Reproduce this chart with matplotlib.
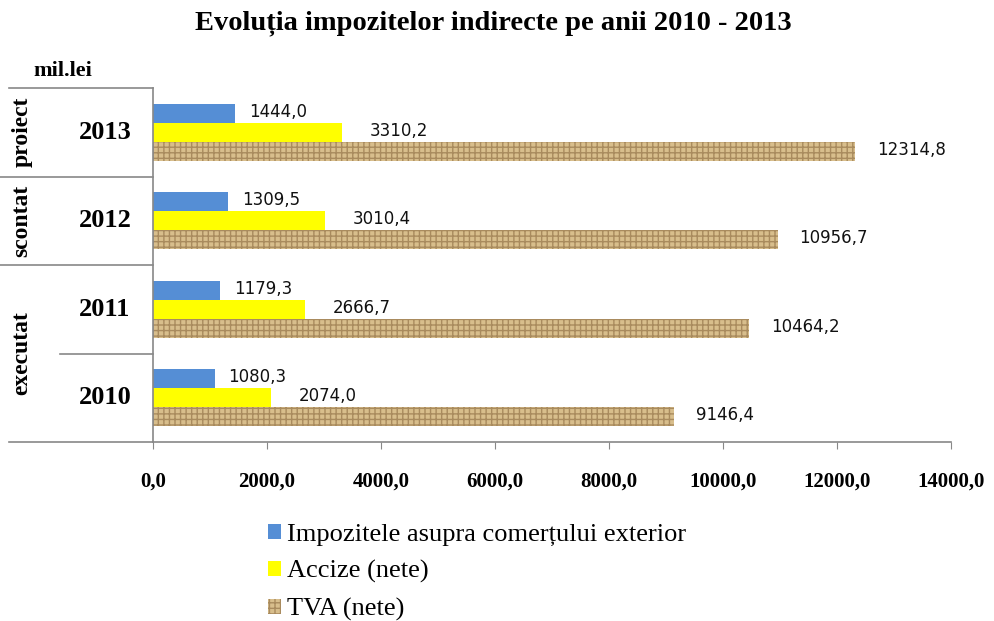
import numpy as np
import matplotlib
matplotlib.use("Agg")
import matplotlib.pyplot as plt
import matplotlib.transforms as mtransforms

# data
years = ["2010", "2011", "2012", "2013"]
comert = [1080.3, 1179.3, 1309.5, 1444.0]
accize = [2074.0, 2666.7, 3010.4, 3310.2]
tva = [9146.4, 10464.2, 10956.7, 12314.8]
series_names = ["Impozitele asupra comerțului exterior", "Accize (nete)", "TVA (nete)"]
x_ticks = [0, 2000, 4000, 6000, 8000, 10000, 12000, 14000]

SERIF = "Liberation Serif"
plt.rcParams['hatch.linewidth'] = 1.0

fig = plt.figure(figsize=(9.95, 6.21), dpi=100)
ax = fig.add_axes([153 / 995, 1 - 442 / 621, 798 / 995, 354 / 621])

y = np.arange(len(years))
h = 0.215
b1 = ax.barh(y + h, comert, height=h, color="#558ed5", label=series_names[0])
b2 = ax.barh(y, accize, height=h, color="#ffff00", label=series_names[1])
b3 = ax.barh(y - h, tva, height=h, color="#d8be8c", edgecolor="#a98b5e",
             hatch="+++", linewidth=0, label=series_names[2])

# value labels, offsets in pixels like the original
for bars, vals, dx in [(b1, comert, 14), (b2, accize, 28), (b3, tva, 22)]:
    for rect, v in zip(bars, vals):
        ax.annotate(f"{v:.1f}".replace(".", ","),
                    xy=(rect.get_width(), rect.get_y() + rect.get_height() / 2),
                    xytext=(dx * 0.72, 1), textcoords="offset points",
                    ha="left", va="center", fontsize=12, color="#111111",
                    family="DejaVu Sans")

ax.set_xlim(0, 14000)
ax.set_ylim(-0.5, 3.5)
ax.set_xticks(x_ticks)
ax.set_xticklabels([f"{t:.1f}".replace(".", ",") for t in x_ticks],
                   family=SERIF, fontsize=15, fontweight="bold")
ax.set_yticks([])
ax.tick_params(axis="x", length=5, color="#888888", pad=16)
for s in ["top", "right"]:
    ax.spines[s].set_visible(False)
for s in ["left", "bottom"]:
    ax.spines[s].set_color("#888888")
    ax.spines[s].set_linewidth(1.2)

# left-hand table with years and status
tr = mtransforms.blended_transform_factory(fig.transFigure, ax.transData)
for yy, x0 in [(3.5, 9), (2.5, 0), (1.5, 0), (0.5, 60), (-0.5, 9)]:
    ax.plot([x0 / 995, 153 / 995], [yy, yy], color="#888888", lw=1.2,
            transform=tr, clip_on=False)

for yy, yr in zip(y, years):
    ax.text(105 / 995, yy, yr, transform=tr, ha="center", va="center",
            family=SERIF, fontsize=19, fontweight="bold")
for yy, lab in [(3, "proiect"), (2, "scontat"), (0.5, "executat")]:
    ax.text(22 / 995, yy, lab, transform=tr, ha="center", va="center",
            rotation=90, family=SERIF, fontsize=17, fontweight="bold")

fig.text(63 / 995, 1 - 71 / 621, "mil.lei", ha="center", va="center",
         family=SERIF, fontsize=16, fontweight="bold")
fig.text(493 / 995, 1 - 23 / 621, "Evoluția impozitelor indirecte pe anii 2010 - 2013",
         ha="center", va="center", family=SERIF, fontsize=20.5, fontweight="bold")

fig.legend(handles=[b1, b2, b3], labels=series_names, loc="upper left",
           bbox_to_anchor=(257 / 995, 1 - 513 / 621), frameon=False,
           prop={"family": SERIF, "size": 19}, handlelength=0.5,
           handleheight=0.5, handletextpad=0.25, labelspacing=0.55,
           borderaxespad=0)

fig.savefig("out.png", dpi=100)
